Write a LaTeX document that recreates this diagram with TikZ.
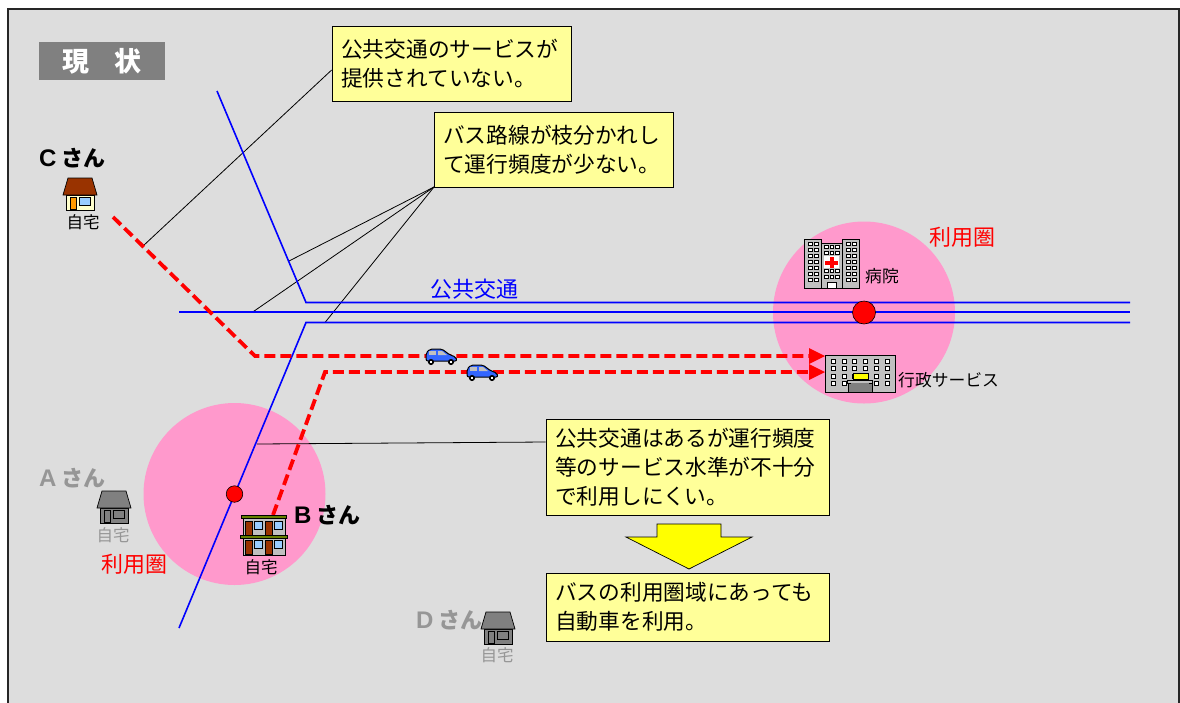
\documentclass[tikz,border=0pt]{standalone}
\usepackage{fontspec}
\setmainfont{Noto Sans CJK JP}
\newfontfamily\latinb{Liberation Sans}
\usetikzlibrary{arrows.meta}
\definecolor{bg}{RGB}{221,221,221}
\definecolor{pinkz}{RGB}{255,153,204}
\definecolor{notey}{RGB}{255,255,153}
\definecolor{bluez}{RGB}{0,0,255}
\definecolor{redz}{RGB}{255,0,0}
\definecolor{yellowz}{RGB}{255,255,0}
\definecolor{greyt}{RGB}{150,150,150}
\definecolor{greyh}{RGB}{128,128,128}
\definecolor{bldg}{RGB}{192,192,192}
\definecolor{roofb}{RGB}{153,51,0}
\definecolor{creamw}{RGB}{255,255,204}
\definecolor{orangez}{RGB}{255,153,0}
\definecolor{winb}{RGB}{153,204,255}
\definecolor{carb}{RGB}{51,102,255}
\definecolor{greenr}{RGB}{102,128,0}
\newcommand{\sqwin}[2]{\draw[black,line width=.6pt,fill=white] (#1-2,#2-2) rectangle (#1+2,#2+2);}
\newcommand{\pname}[2]{{\latinb\fontsize{24}{24}\bfseries\selectfont #1}\hspace{5pt}{\fontsize{22}{22}\selectfont #2}}
\tikzset{
 x=1pt,y=-1pt,
 note/.style={draw=black,line width=.7pt,fill=notey,inner sep=0},
 notetext/.style={font=\fontsize{21.7}{29}\selectfont,align=left,anchor=west,inner sep=0},
 blueline/.style={draw=bluez,line width=1.6pt},
 leader/.style={draw=black,line width=.8pt},
 reddash/.style={draw=redz,line width=3.8pt,dash pattern=on 11pt off 5pt},
 redhead/.style={fill=redz,draw=none},
 dot/.style={circle,draw=black,line width=.6pt,fill=redz,inner sep=0},
 zone/.style={circle,fill=pinkz,draw=none,inner sep=0},
 person/.style={font=\bfseries,inner sep=0,anchor=west},
 homelabel/.style={font=\fontsize{16.5}{16.5}\selectfont,inner sep=0},
 redlabel/.style={text=redz,font=\fontsize{22}{22}\selectfont,inner sep=0},
 place/.style={font=\fontsize{16.8}{16.8}\selectfont,inner sep=0,anchor=west},
 pics/house/.style args={#1/#2/#3/#4}{code={
  \draw[line width=.7pt,fill=#2] (-14,7) rectangle (14,22);
  \draw[line width=.7pt,fill=#1] (-12,-10) -- (12,-10) -- (17,7) -- (-17,7) -- cycle;
  \draw[line width=.6pt,fill=#3] (-10,9) rectangle (-4,21.5);
  \draw[line width=.7pt,fill=#4] (-1,9) rectangle (10,17.5);
 }},
 pics/car/.style={code={
  \draw[line width=1pt,fill=carb,rounded corners=2pt] (-15,5) -- (-15,-3) -- (-11,-7) -- (1,-7) -- (9,-1) -- (15,1) -- (16,5) -- cycle;
  \fill[bldg] (-12,-5) rectangle (-5,-1);
  \fill[bldg] (-3,-5) -- (1,-5) -- (6,-1) -- (-3,-1) -- cycle;
  \draw[fill=white,line width=1.6pt] (-10,6) circle (2.2);
  \draw[fill=white,line width=1.6pt] (10,6) circle (2.2);
 }},
}
\begin{document}
\begin{tikzpicture}
\useasboundingbox (0,0) rectangle (1180,702);
\fill[white] (0,0) rectangle (1180,702);
\draw[line width=1.8pt,draw=black!85,fill=bg] (8,720) -- (8,9) -- (1179,9) -- (1179,720);
% zones
\node[zone,minimum size=182pt] (zoneE) at (864,312.5) {};
\node[zone,minimum size=182pt] (zoneW) at (234.5,494) {};
% title
\node[fill=greyh,minimum width=126pt,minimum height=38pt,inner sep=0,text=white,font=\fontsize{27}{27}\bfseries\selectfont] (title) at (102,61) {現\hspace{26pt}状};
% anchor coordinates
\coordinate (bA1) at (217,91);\coordinate (bA2) at (306,302.5);\coordinate (bA3) at (1130,302.5);
\coordinate (bB1) at (179,312.2);\coordinate (bB3) at (1130,312.2);
\coordinate (bC1) at (179,628);\coordinate (bC2) at (306,322.5);\coordinate (bC3) at (1130,322.5);
\coordinate (lC) at (143,246);
\coordinate (l1) at (289,261);\coordinate (l2) at (252,312.5);\coordinate (l3) at (325,322.5);
\coordinate (l4) at (257,444);
\coordinate (rA1) at (113,217);\coordinate (rA2) at (255,356);\coordinate (rA3) at (809,356);
\coordinate (rB1) at (273,515);\coordinate (rB2) at (325,372);\coordinate (rB3) at (809,372);
% notes
\node[note,minimum width=239pt,minimum height=75pt] (n1) at (451.5,63.5) {};
\node[note,minimum width=239pt,minimum height=75pt] (n2) at (553.5,149.5) {};
\node[note,minimum width=283pt,minimum height=96pt] (n3) at (687.5,467) {};
\node[note,minimum width=283pt,minimum height=68pt] (n4) at (687.5,607) {};
% leaders
\draw[leader] (n1.west |- 0,70) -- (lC);
\coordinate (n2c) at (434,187);
\draw[leader] (n2c) -- (l1);
\draw[leader] (n2c) -- (l2);
\draw[leader] (n2c) -- (l3);
\draw[leader] (n3.west |- 0,442) -- (l4);
% blue
\draw[blueline] (bA1) -- (bA2) -- (bA3);
\draw[blueline,line width=1.9pt] (bB1) -- (bB3);
\draw[blueline] (bC1) -- (bC2) -- (bC3);
% dots
\node[dot,minimum size=23pt] (dotE) at (864,312.5) {};
\node[dot,minimum size=16.5pt] (dotW) at (234.5,494) {};
% red routes
\draw[reddash] (rA1) -- (rA2) -- (rA3);
\draw[reddash] (rB1) -- (rB2) -- (rB3);
\fill[redhead] (rA3) ++(0,-8) -- ++(16,8) -- ++(-16,8) -- cycle;
\fill[redhead] (rB3) ++(0,-8) -- ++(16,8) -- ++(-16,8) -- cycle;
% note text
\node[notetext] (t1) at (341,63.5) {公共交通のサービスが\\提供されていない。};
\node[notetext] (t2) at (443,149.5) {バス路線が枝分かれし\\て運行頻度が少ない。};
\node[notetext] (t3) at (555,467) {公共交通はあるが運行頻度\\等のサービス水準が不十分\\で利用しにくい。};
\node[notetext] (t4) at (555,607) {バスの利用圏域にあっても\\自動車を利用。};
% yellow arrow
\draw[line width=.7pt,fill=yellowz] (657,524) -- (721,524) -- (721,537) -- (752,537) -- (689,569) -- (626,537) -- (657,537) -- cycle;
% labels
\node[text=bluez,font=\fontsize{22}{22}\selectfont,inner sep=0] (pub) at (474,289) {公共交通};
\node[redlabel] (rE) at (962,237) {利用圏};
\node[redlabel] (rW) at (134.5,564) {利用圏};
\node[person] (pC) at (39,158) {\pname{C}{さん}};
\node[person,text=greyt] (pA) at (39,478) {\pname{A}{さん}};
\node[person] (pB) at (294,515) {\pname{B}{さん}};
\node[person,text=greyt] (pD) at (416,620) {\pname{D}{さん}};
% houses
\pic at (80,188) {house=roofb/creamw/orangez/winb};
\node[homelabel] (hC) at (83,222) {自宅};
\pic at (114,501) {house=greyh/greyh/greyh/greyh};
\node[homelabel,text=greyt] (hA) at (113,535) {自宅};
\pic at (498,622) {house=greyh/greyh/greyh/greyh};
\node[homelabel,text=greyt] (hD) at (497,655) {自宅};
% apartment B
\draw[line width=.7pt,fill=bldg] (243,518) rectangle (285,555);
\foreach \y in {521,540}{
 \foreach \xx in {245,265}{
  \draw[line width=.5pt,fill=roofb] (\xx,\y) rectangle (\xx+7,\y+14);
  \draw[line width=.5pt,fill=winb] (\xx+9,\y) rectangle (\xx+17,\y+8);
 }}
\draw[line width=.5pt,fill=greenr] (241,515) rectangle (286,518.5);
\draw[line width=.5pt,fill=greenr] (240,535.5) rectangle (287,538);
\node[homelabel] (hB) at (261,567) {自宅};
% hospital
\draw[line width=.7pt,fill=bldg] (804,239) rectangle (821,288);
\draw[line width=.7pt,fill=bldg] (842,239) rectangle (859,288);
\draw[line width=.7pt,fill=bldg] (821,243) rectangle (842,288);
\foreach \y in {244,250,256,262,268,274,280}{
 \foreach \xx in {810,816,848,854}{\draw[line width=.4pt,fill=white] (\xx-1.7,\y-1.6) rectangle (\xx+1.7,\y+1.6);}}
\foreach \y in {247,253,271,277}{
 \foreach \xx in {826,831.5,837}{\draw[line width=.4pt,fill=white] (\xx-1.7,\y-1.6) rectangle (\xx+1.7,\y+1.6);}}
\fill[white] (824,256) rectangle (838.5,268);
\fill[redz] (829.5,257) rectangle (833.5,268);
\fill[redz] (825,260.5) rectangle (838,264.5);
\draw[line width=.4pt,fill=white] (827,282) rectangle (836,288);
\node[place] (hosp) at (865,276) {病院};
% government office
\draw[line width=.7pt,fill=bldg] (825,355.5) rectangle (895.5,392.5);
\foreach \y in {361,368,376,383}{
 \foreach \xx in {833.5,844.5,854.5,865.5,876.5,887}{\sqwin{\xx}{\y}}}
\draw[line width=.7pt,fill=greyh] (848,380) rectangle (872,392.5);
\draw[line width=.6pt,fill=bldg] (847.5,380) rectangle (872.5,383);
\fill[greyh] (851,383) rectangle (869,392);
\draw[line width=.5pt,fill=yellowz] (853,373) rectangle (868,379.5);
\node[place] (gov) at (898,380) {行政サービス};
% cars
\pic at (441,356) {car};
\pic at (482,372) {car};
\end{tikzpicture}
\end{document}
